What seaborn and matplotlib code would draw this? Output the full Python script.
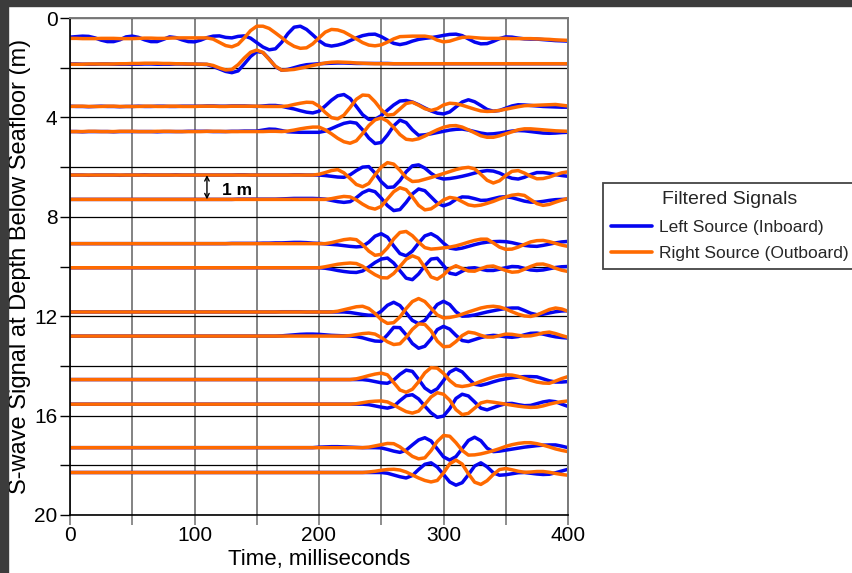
import numpy as np
import pandas as pd
import seaborn as sns
import matplotlib.pyplot as plt
from matplotlib.lines import Line2D
from matplotlib.patches import Rectangle
from matplotlib.ticker import MultipleLocator

# sample times (ms) and trace baselines (m below seafloor)
time_ms = list(range(0, 401, 5))
depths = [0.85, 1.86, 3.56, 4.57, 6.32, 7.30, 9.08, 10.05, 11.83, 12.80, 14.55, 15.54, 17.29, 18.29]

# trace amplitudes in cm (positive = upward), every 5 ms
# left source (inboard) - blue
L01 = [8, 10, 12, 11, 5, -4, -10, -10, -3, 9,
       12, 7, -3, -10, -10, -1, 9, 6, -3, -10,
       -11, -4, 6, 12, 13, 7, 5, 11, 13, 4,
       -14, -32, -43, -39, -13, 22, 48, 52, 39, 17,
       -6, -23, -28, -24, -17, -6, 5, 14, 19, 20,
       10, -4, -17, -22, -17, -8, -1, 3, 6, 10,
       15, 19, 20, 14, 1, -12, -19, -18, -9, 2,
       9, 8, 4, 1, 0, 0, -2, -4, -6, -7, -8]
L02 = [1, 1, 0, 0, 0, 1, 1, 0, 0, 0,
       0, 0, 1, 1, 0, 0, 0, 1, 1, 0,
       0, 0, -1, -9, -19, -29, -34, -27, 1, 31,
       51, 47, 21, -10, -24, -21, -14, -7, -2, 0,
       2, 3, 4, 5, 5, 4, 3, 3, 3, 3,
       3, 3, 2, 2, 2, 2, 2, 2, 2, 2,
       2, 2, 2, 2, 2, 2, 2, 2, 2, 2,
       2, 2, 2, 2, 2, 2, 2, 2, 2, 2, 2]
L03 = [1, 0, 0, -1, 0, 1, 0, 0, -1, 0,
       0, 1, 0, 0, 1, 1, 0, 0, 1, 1,
       1, 1, 2, 2, 1, 1, 2, 2, 2, 1,
       0, 2, 4, 4, 1, -5, -10, -17, -23, -26,
       -19, 2, 25, 43, 48, 32, 0, -33, -52, -52,
       -37, -15, 6, 22, 24, 18, 7, -6, -18, -27,
       -30, -22, -2, 18, 27, 19, 4, -12, -19, -16,
       -7, 2, 7, 6, 4, 2, 0, -1, -2, -3, -3]
L04 = [0, 0, -1, 0, 0, 0, 0, -1, 0, 0,
       0, 0, 0, 0, -1, 0, 0, 0, 0, 1,
       1, 1, 1, 0, 0, 0, 1, 1, 2, 2,
       2, 6, 10, 9, 4, -1, -2, -3, -3, -3,
       -3, 2, 12, 23, 33, 38, 34, 7, -26, -48,
       -44, -14, 23, 46, 36, 7, -15, -13, -9, -4,
       1, 6, 9, 10, 6, 0, -6, -10, -9, -6,
       -2, 2, 4, 3, 0, -3, -6, -7, -6, -4, -3]
L05 = [0, 0, 0, -1, 0, 0, 0, 0, -1, 0,
       0, 0, 1, 0, 0, 0, 0, 1, 0, 0,
       0, 0, 0, 0, 0, 0, 0, 1, 1, 0,
       0, 0, 0, 0, 0, 0, 1, 1, 0, 0,
       0, -2, -5, -8, -9, 1, 18, 32, 34, 8,
       -27, -50, -48, -22, 13, 37, 41, 28, 7, -9,
       -16, -14, -10, -5, 1, 8, 14, 18, 16, 8,
       -4, -13, -16, -9, 2, 10, 10, 7, 2, -2, -5]
L06 = [0, 0, 0, 0, 0, 0, 0, 0, 0, 0,
       0, 0, 0, 0, 0, 0, 0, 0, 0, 0,
       0, 0, 0, 0, 0, 0, 0, 1, 1, 1,
       1, 1, 1, 1, 2, 3, 4, 4, 4, 4,
       3, 1, -4, -9, -12, -9, 7, 27, 38, 31,
       5, -25, -45, -41, -12, 22, 42, 35, 10, -15,
       -26, -17, 0, 10, 9, 3, -4, -3, 3, 9,
       11, 7, 0, -7, -11, -11, -8, -4, -1, 0, 1]
L07 = [0, 0, 0, 0, 0, 0, 0, 0, 0, 0,
       0, 0, 0, 0, 0, 0, 0, 0, 0, 0,
       0, 0, 0, 0, 0, 0, 1, 1, 1, 1,
       1, 2, 2, 3, 3, 4, 5, 5, 4, 2,
       1, -1, -3, -5, -8, -11, -13, -11, 6, 30,
       40, 26, -9, -40, -49, -30, 2, 31, 40, 26,
       2, -18, -22, -18, -11, -4, 2, 6, 8, 9,
       8, 4, -2, -7, -10, -11, -7, -2, 3, 7, 9]
L08 = [0, 0, 0, 0, 0, 0, 0, 0, 0, 0,
       0, 0, 0, 0, 0, 0, 0, 0, 0, 0,
       0, 0, 0, 0, 0, 0, 0, 0, 0, 0,
       0, 0, 0, 0, 0, 0, 0, 0, 0, 0,
       0, -2, -6, -11, -15, -18, -19, -13, 3, 21,
       35, 39, 19, -12, -42, -48, -25, 8, 35, 38,
       9, -22, -27, -14, -2, 0, -6, -11, -11, -6,
       0, 5, 4, -3, -9, -11, -9, -4, 1, 4, 5]
L09 = [0, 0, 0, 0, 0, 0, 0, 0, 0, 0,
       0, 0, 0, 0, 0, 0, 0, 0, 0, 0,
       0, 0, 0, 0, 0, 0, 0, 0, 0, 0,
       0, 0, 0, 0, 1, 1, 1, 1, 0, 0,
       0, 0, 0, 0, 0, -2, -6, -10, -13, -13,
       3, 27, 39, 26, -4, -34, -47, -34, -2, 30,
       43, 30, 1, -17, -16, -12, -6, 0, 5, 10,
       14, 16, 16, 6, -5, -11, -9, -4, 1, 4, 5]
L10 = [0, 0, 0, 0, 0, 0, 0, 0, 0, 0,
       0, 0, 0, 0, 0, 0, 0, 0, 0, 0,
       0, 0, 0, 0, 0, 0, 0, 0, 0, 0,
       0, 0, 0, 0, 1, 3, 5, 7, 8, 8,
       7, 5, 3, 2, 1, 0, -2, -7, -14, -20,
       -21, 5, 35, 34, 5, -30, -49, -41, -12, 26,
       39, 28, 3, -18, -22, -14, -6, 0, 3, 1,
       -3, -5, -2, 5, 11, 12, 8, 2, -3, -6, -8]
L11 = [0, 0, 0, 0, 0, 0, 0, 0, 0, 0,
       0, 0, 0, 0, 0, 0, 0, 0, 0, 0,
       0, 0, 0, 0, 0, 0, 0, 0, 0, 0,
       0, 0, 0, 0, 0, 0, 0, 0, 0, 0,
       0, 0, 0, 0, 0, 0, 0, 0, -3, -8,
       -13, -15, -2, 21, 38, 33, 1, -34, -51, -37,
       -4, 30, 43, 31, 4, -19, -23, -17, -9, -2,
       3, 7, 10, 12, 12, 11, 3, -5, -10, -10, -8]
L12 = [0, 0, 0, 0, 0, 0, 0, 0, 0, 0,
       0, 0, 0, 0, 0, 0, 0, 0, 0, 0,
       0, 0, 0, 0, 0, 0, 0, 0, 0, 0,
       0, 0, 0, 0, 0, 0, 0, 0, 0, 0,
       0, 0, 0, 0, 0, 0, 0, 0, -2, -7,
       -12, -16, -9, 14, 34, 38, 21, -8, -35, -53,
       -48, -18, 23, 40, 33, 9, -16, -23, -14, -5,
       2, 3, -2, -6, -5, 2, 9, 13, 10, 0, -9]
L13 = [0, 0, 0, 0, 0, 0, 0, 0, 0, 0,
       0, 0, 0, 0, 0, 0, 0, 0, 0, 0,
       0, 0, 0, 0, 0, 0, 0, 0, 0, 0,
       0, 0, 0, 0, 0, 0, 0, 0, 0, 0,
       2, 3, 4, 4, 3, 2, 1, 0, 0, 0,
       -1, -7, -14, -19, -10, 11, 31, 40, 27, -5,
       -37, -50, -36, -4, 29, 42, 28, -2, -16, -14,
       -10, -6, -2, 2, 5, 8, 10, 11, 11, 6, 0]
L14 = [0, 0, 0, 0, 0, 0, 0, 0, 0, 0,
       0, 0, 0, 0, 0, 0, 0, 0, 0, 0,
       0, 0, 0, 0, 0, 0, 0, 0, 0, 0,
       0, 0, 0, 0, 0, 0, 0, 0, 0, 0,
       0, 0, 0, 0, 0, 0, 0, 0, 0, 0,
       0, -3, -10, -17, -22, -12, 12, 33, 39, 22,
       -8, -38, -51, -41, -9, 26, 39, 23, -1, -11,
       -9, -5, -1, 0, -3, -6, -8, -7, -1, 6, 13]

# right source (outboard) - orange
R01 = [3, 3, 2, 2, 2, 3, 3, 3, 2, 2,
       2, 3, 4, 4, 3, 3, 4, 5, 5, 5,
       5, 5, 5, 0, -13, -26, -31, -21, 5, 34,
       52, 52, 43, 25, 6, -14, -29, -37, -35, -19,
       5, 28, 39, 37, 29, 15, 1, -14, -24, -27,
       -23, -12, 1, 10, 11, 12, 12, 12, 8, -4,
       -11, -8, 0, 7, 8, 6, 4, 3, 3, 3,
       3, 2, 2, 2, 2, 1, 0, -1, -3, -4, -5]
R02 = [0, 0, 0, 1, 1, 1, 1, 1, 2, 2,
       3, 3, 4, 4, 4, 3, 3, 2, 2, 1,
       1, 0, 0, -5, -15, -23, -21, -2, 25, 48,
       57, 47, 19, -8, -24, -23, -21, -16, -11, -5,
       0, 5, 8, 9, 8, 7, 5, 4, 3, 2,
       2, 2, 2, 2, 2, 2, 2, 2, 2, 2,
       2, 2, 2, 2, 2, 2, 2, 2, 2, 2,
       2, 2, 2, 2, 2, 2, 2, 2, 2, 2, 2]
R03 = [0, 1, 1, 0, 0, 0, 1, 1, 0, 0,
       0, 0, 1, 1, 0, 0, 1, 1, 0, 0,
       0, 1, 1, 1, 0, 0, 1, 1, 1, 1,
       1, 0, 0, 0, 0, 2, 8, 13, 17, 16,
       1, -24, -45, -50, -35, -4, 29, 46, 44, 19,
       -13, -35, -32, -10, 12, 17, 5, -9, -16, -9,
       6, 13, 11, 5, -3, -11, -18, -20, -19, -16,
       -11, -6, -1, 3, 4, 5, 6, 7, 8, 5, 2]
R04 = [0, 0, 0, 1, 1, 0, 0, 0, 1, 1,
       1, 0, 0, 0, 1, 1, 1, 0, 0, 0,
       0, 0, 1, 1, 1, 0, 0, 0, 0, 0,
       0, 0, 1, 1, 0, 2, 6, 11, 15, 18,
       18, 7, -9, -27, -41, -47, -37, -8, 24, 47,
       55, 42, 17, -12, -31, -34, -29, -18, -5, 7,
       17, 23, 24, 18, 7, -5, -17, -23, -23, -17,
       -9, -1, 7, 11, 11, 9, 7, 5, 3, 2, 1]
R05 = [0, 0, 0, 0, 0, 0, 0, 0, 0, 0,
       0, 0, 0, 0, 0, 0, 0, 0, 0, 0,
       0, 0, 0, 0, 0, 0, 0, 0, 0, 0,
       0, 0, 0, 0, 0, 0, 0, 0, 0, 0,
       3, 10, 18, 22, 9, -14, -38, -47, -34, 1,
       32, 50, 44, 19, -10, -26, -24, -17, -10, -2,
       6, 14, 22, 28, 31, 25, 3, -21, -32, -23,
       -2, 15, 18, 8, -5, -15, -14, -8, 1, 9, 13]
R06 = [0, 0, 0, 0, 0, 0, 0, 0, 0, 0,
       0, 0, 0, 0, 0, 0, 0, 0, 0, 0,
       0, 0, 0, 0, 0, 0, 0, 0, 0, 0,
       0, 0, 0, 0, 0, 0, 0, 0, 0, 0,
       0, 0, 3, 8, 12, 10, -2, -19, -33, -39,
       -28, 2, 31, 47, 39, 10, -24, -42, -38, -21,
       -2, 8, 4, -9, -22, -26, -23, -16, -8, 2,
       10, 17, 20, 16, -1, -17, -24, -20, -11, -3, 4]
R07 = [0, 0, 0, 0, 0, 0, 0, 0, 0, 0,
       0, 0, 0, 0, 0, 0, 0, 0, 0, 0,
       0, 0, 0, 0, 0, 0, 0, 0, 0, 0,
       0, 0, 0, 0, 0, 0, 0, 0, 0, 0,
       0, 0, 4, 10, 16, 19, 16, -4, -30, -47,
       -43, -17, 19, 45, 49, 32, 6, -16, -22, -20,
       -17, -14, -9, -2, 6, 13, 18, 18, 3, -14,
       -23, -22, -14, -3, 7, 12, 13, 8, 1, -6, -11]
R08 = [0, 0, 0, 0, 0, 0, 0, 0, 0, 0,
       0, 0, 0, 0, 0, 0, 0, 0, 0, 0,
       0, 0, 0, 0, 0, 0, 0, 0, 0, 0,
       0, 0, 0, 0, 0, 0, 0, 0, 0, 0,
       0, 4, 9, 14, 17, 19, 17, 6, -12, -28,
       -40, -41, -23, 5, 34, 48, 38, 1, -37, -46,
       -29, -4, 8, -3, -13, -14, -4, 5, 7, -2,
       -11, -18, -16, -6, 5, 14, 15, 8, -2, -10, -15]
R09 = [0, 0, 0, 0, 0, 0, 0, 0, 0, 0,
       0, 0, 0, 0, 0, 0, 0, 0, 0, 0,
       0, 0, 0, 0, 0, 0, 0, 0, 0, 0,
       0, 0, 0, 0, 0, 0, 0, 0, 0, 0,
       0, 0, 0, 3, 9, 15, 21, 23, 14, -6,
       -31, -46, -43, -20, 14, 42, 54, 42, 15, -12,
       -24, -22, -17, -9, 0, 8, 16, 21, 23, 20,
       12, 1, -9, -16, -18, -12, -1, 10, 16, 12, 3]
R10 = [0, 0, 0, 0, 0, 0, 0, 0, 0, 0,
       0, 0, 0, 0, 0, 0, 0, 0, 0, 0,
       0, 0, 0, 0, 0, 0, 0, 0, 0, 0,
       0, 0, 0, 0, 0, 0, 0, 0, 0, 0,
       0, 0, 0, 0, 0, 2, 6, 10, 12, 8,
       -6, -23, -34, -31, -5, 27, 49, 47, 21, -20,
       -43, -41, -22, 2, 16, 12, 3, -4, -4, 2,
       8, 7, 3, 0, 1, 6, 13, 16, 10, 2, -5]
R11 = [0, 0, 0, 0, 0, 0, 0, 0, 0, 0,
       0, 0, 0, 0, 0, 0, 0, 0, 0, 0,
       0, 0, 0, 0, 0, 0, 0, 0, 0, 0,
       0, 0, 0, 0, 0, 0, 0, 0, 0, 0,
       0, 0, 0, 0, 0, 0, 3, 9, 16, 22,
       26, 19, -12, -42, -51, -39, -9, 27, 48, 46,
       25, -4, -24, -28, -24, -17, -7, 2, 10, 16,
       19, 18, 13, 5, -3, -10, -14, -15, -6, 4, 12]
R12 = [0, 0, 0, 0, 0, 0, 0, 0, 0, 0,
       0, 0, 0, 0, 0, 0, 0, 0, 0, 0,
       0, 0, 0, 0, 0, 0, 0, 0, 0, 0,
       0, 0, 0, 0, 0, 0, 0, 0, 0, 0,
       0, 0, 0, 0, 0, 0, 2, 6, 10, 12,
       13, 9, -3, -17, -30, -36, -28, -1, 29, 46,
       40, 16, -22, -42, -37, -16, 5, 11, 8, 4,
       0, -4, -8, -11, -13, -12, -7, 0, 6, 10, 13]
R13 = [0, 0, 0, 0, 0, 0, 0, 0, 0, 0,
       0, 0, 0, 0, 0, 0, 0, 0, 0, 0,
       0, 0, 0, 0, 0, 0, 0, 0, 0, 0,
       0, 0, 0, 0, 0, 0, 0, 0, 0, 0,
       0, 0, 0, 0, 0, 0, 0, 0, 2, 7,
       12, 17, 16, 3, -16, -35, -45, -41, -12, 25,
       49, 46, 20, -11, -30, -29, -25, -19, -12, -4,
       5, 12, 17, 20, 20, 16, 10, 3, -5, -11, -16]
R14 = [0, 0, 0, 0, 0, 0, 0, 0, 0, 0,
       0, 0, 0, 0, 0, 0, 0, 0, 0, 0,
       0, 0, 0, 0, 0, 0, 0, 0, 0, 0,
       0, 0, 0, 0, 0, 0, 0, 0, 0, 0,
       0, 0, 0, 0, 0, 0, 0, 0, 2, 5,
       9, 12, 13, 10, 2, -10, -22, -32, -38, -32,
       -2, 35, 50, 34, -5, -39, -48, -33, -8, 12,
       16, 11, 5, 1, 2, 4, 4, 1, -4, -8, -11]

left_traces = [L01, L02, L03, L04, L05, L06, L07, L08, L09, L10, L11, L12, L13, L14]
right_traces = [R01, R02, R03, R04, R05, R06, R07, R08, R09, R10, R11, R12, R13, R14]
sources = ["Left Source (Inboard)", "Right Source (Outboard)"]
colors = ["#0505f0", "#ff6a00"]

# long-form table: one row per sample
rows = []
for k, base in enumerate(depths):
    for src, traces in zip(sources, (left_traces, right_traces)):
        amp = traces[k]
        assert len(amp) == len(time_ms)
        for t, a in zip(time_ms, amp):
            rows.append({"time": t, "depth": base - a / 100.0,
                         "source": src, "trace": f"{src}-{k}"})
df = pd.DataFrame(rows)

sns.set_theme(style="white")
plt.rcParams["font.family"] = ["Liberation Sans", "DejaVu Sans"]

fig = plt.figure(figsize=(8.52, 5.73), dpi=100)
ax = fig.add_axes([70 / 852, 1 - 515 / 573, 498 / 852, 497 / 573])

sns.lineplot(data=df, x="time", y="depth", hue="source", units="trace",
             estimator=None, palette=dict(zip(sources, colors)),
             hue_order=sources, lw=2.5, legend=False, ax=ax,
             solid_joinstyle="round")

ax.set_xlim(0, 400)
ax.set_ylim(20, 0)
ax.xaxis.set_major_locator(MultipleLocator(100))
ax.xaxis.set_minor_locator(MultipleLocator(50))
ax.yaxis.set_major_locator(MultipleLocator(4))
ax.yaxis.set_minor_locator(MultipleLocator(2))
ax.set_axisbelow(True)
ax.grid(which="both", axis="x", color="#7a7a7a", lw=1.3)
ax.grid(which="both", axis="y", color="black", lw=0.9)

ax.tick_params(axis="x", which="both", bottom=True, direction="out", length=7,
               width=1.2, color="#7a7a7a", labelsize=15, labelcolor="black", pad=1)
ax.tick_params(axis="y", which="both", left=True, direction="out", length=7,
               width=1.0, color="black", labelsize=15, labelcolor="black", pad=2)

for side in ("left", "bottom"):
    ax.spines[side].set_color("black")
    ax.spines[side].set_linewidth(1.2)
for side in ("top", "right"):
    ax.spines[side].set_color("#7a7a7a")
    ax.spines[side].set_linewidth(1.4)

ax.set_xlabel("Time, milliseconds", fontsize=16, color="black", labelpad=3)
ax.set_ylabel("S-wave Signal at Depth Below Seafloor (m)", fontsize=17,
              color="black", labelpad=2)

# 1 m scale marker between traces 5 and 6
ax.annotate("", xy=(110, depths[5]), xytext=(110, depths[4]),
            arrowprops=dict(arrowstyle="<->", lw=1.0, color="black",
                            shrinkA=0, shrinkB=0, mutation_scale=8))
ax.text(122, 6.95, "1 m", fontsize=12.5, fontweight="bold", color="black",
        ha="left", va="center")

handles = [Line2D([], [], color=c, lw=2.6) for c in colors]
leg = fig.legend(handles, sources, title="Filtered Signals", loc="upper left",
                 bbox_to_anchor=(603 / 852, 1 - 183 / 573), fontsize=12.5,
                 title_fontsize=14, frameon=True, fancybox=False,
                 edgecolor="#444444", framealpha=1, borderaxespad=0,
                 borderpad=0.45, labelspacing=0.67, handlelength=2.4,
                 handletextpad=0.35)
leg.get_frame().set_linewidth(1.3)

# dark screenshot border on the left and top
fig.add_artist(Rectangle((0, 0), 8 / 852, 1, transform=fig.transFigure,
                         color="#3c3c3c", zorder=10))
fig.add_artist(Rectangle((0, 1 - 6 / 573), 1, 6 / 573, transform=fig.transFigure,
                         color="#3c3c3c", zorder=10))

fig.savefig("out.png", dpi=100)
